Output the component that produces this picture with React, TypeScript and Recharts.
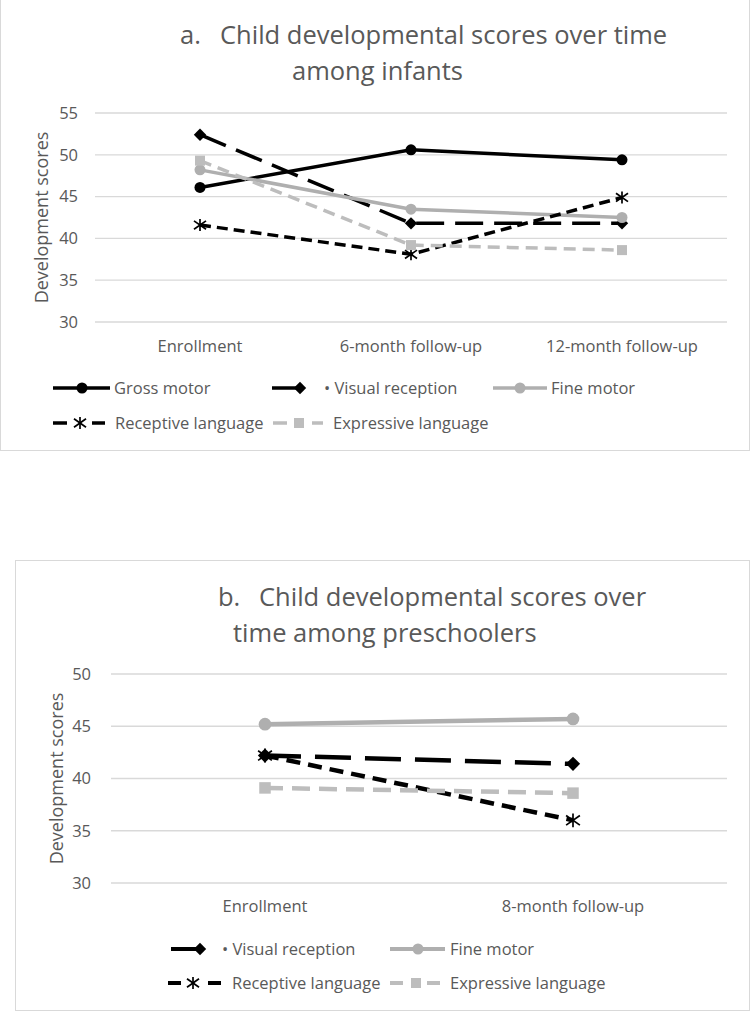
import React from "react";
import { LineChart, Line, XAxis, YAxis, CartesianGrid } from "recharts";

// panel a: infants
const infantStages = ["Enrollment", "6-month follow-up", "12-month follow-up"];
const infantGross = [46.1, 50.6, 49.4];
const infantVisual = [52.4, 41.8, 41.8];
const infantFine = [48.2, 43.5, 42.5];
const infantReceptive = [41.6, 38.1, 44.9];
const infantExpressive = [49.3, 39.2, 38.6];

// panel b: preschoolers
const preStages = ["Enrollment", "8-month follow-up"];
const preVisual = [42.2, 41.4];
const preFine = [45.2, 45.7];
const preReceptive = [42.2, 36.0];
const preExpressive = [39.1, 38.6];

const yTicksA = [30, 35, 40, 45, 50, 55];
const yTicksB = [30, 35, 40, 45, 50];

const TEXT = "#595959";
const GRID = "#d9d9d9";
const FONT = "'Open Sans', sans-serif";

type Marker = "circle" | "diamond" | "asterisk" | "square";

function MarkerShape({ kind, cx, cy, color, s = 1 }: { kind: Marker; cx: number; cy: number; color: string; s?: number }) {
  if (kind === "circle") return <circle cx={cx} cy={cy} r={5.5 * s} fill={color} />;
  if (kind === "diamond") {
    const r = 6.2 * s;
    return <polygon points={`${cx},${cy - r} ${cx + r},${cy} ${cx},${cy + r} ${cx - r},${cy}`} fill={color} />;
  }
  if (kind === "square") {
    const r = 5 * s;
    return <rect x={cx - r} y={cy - r} width={2 * r} height={2 * r} fill={color} />;
  }
  const r = 6 * s;
  return (
    <g stroke={color} strokeWidth={1.7} strokeDasharray="none">
      <line x1={cx} y1={cy - r} x2={cx} y2={cy + r} />
      <line x1={cx - r} y1={cy - r * 0.7} x2={cx + r} y2={cy + r * 0.7} />
      <line x1={cx - r} y1={cy + r * 0.7} x2={cx + r} y2={cy - r * 0.7} />
    </g>
  );
}

const makeDot = (kind: Marker, color: string, s = 1) => (p: any) =>
  p.cx == null ? <g key={p.key} /> : (
    <g key={p.key}>
      <MarkerShape kind={kind} cx={p.cx} cy={p.cy} color={color} s={s} />
    </g>
  );

type Series = { key: string; name: string; color: string; dash?: string; marker: Marker; values: number[] };

const seriesA: Series[] = [
  { key: "gross", name: "Gross motor", color: "#000", marker: "circle", values: infantGross },
  { key: "visual", name: "• Visual reception", color: "#000", dash: "28 11", marker: "diamond", values: infantVisual },
  { key: "fine", name: "Fine motor", color: "#afafaf", marker: "circle", values: infantFine },
  { key: "receptive", name: "Receptive language", color: "#000", dash: "11 6", marker: "asterisk", values: infantReceptive },
  { key: "expressive", name: "Expressive language", color: "#bdbdbd", dash: "12 7", marker: "square", values: infantExpressive },
];

const seriesB: Series[] = [
  { key: "visual", name: "• Visual reception", color: "#000", dash: "36 14", marker: "diamond", values: preVisual },
  { key: "fine", name: "Fine motor", color: "#afafaf", marker: "circle", values: preFine },
  { key: "receptive", name: "Receptive language", color: "#000", dash: "14 8", marker: "asterisk", values: preReceptive },
  { key: "expressive", name: "Expressive language", color: "#bdbdbd", dash: "18 9", marker: "square", values: preExpressive },
];

const buildRows = (stages: string[], series: Series[]) =>
  stages.map((stage, i) => {
    const row: Record<string, any> = { stage };
    series.forEach((s) => (row[s.key] = s.values[i]));
    return row;
  });

const dataA = buildRows(infantStages, seriesA);
const dataB = buildRows(preStages, seriesB);

function LegendItem({ s, x, y, segs, mark, textX, width }: any) {
  return (
    <div style={{ position: "absolute", left: x, top: y - 14, height: 28, width: 300 }}>
      <svg width={textX} height={28} style={{ position: "absolute", left: 0, top: 0 }}>
        {segs.map((g: number[], i: number) => (
          <line key={i} x1={g[0]} y1={14} x2={g[1]} y2={14} stroke={s.color} strokeWidth={width} />
        ))}
        <MarkerShape kind={s.marker} cx={mark} cy={14} color={s.color} />
      </svg>
      <span style={{ position: "absolute", left: textX, top: 3, fontFamily: FONT, fontSize: 16.5, color: TEXT, whiteSpace: "nowrap", lineHeight: "22px" }}>
        {s.name}
      </span>
    </div>
  );
}

function Title({ label, text, line2, top, labelX, textX, line2X }: any) {
  const st: React.CSSProperties = { position: "absolute", fontFamily: FONT, fontSize: 25.5, color: TEXT, whiteSpace: "nowrap", lineHeight: "30px" };
  return (
    <>
      <div style={{ ...st, left: labelX, top }}>{label}</div>
      <div style={{ ...st, left: textX, top }}>{text}</div>
      <div style={{ ...st, left: line2X, top: top + 36 }}>{line2}</div>
    </>
  );
}

const tickStyle = { fill: TEXT, fontSize: 16.5, fontFamily: FONT };

export default function App() {
  return (
    <div style={{ position: "absolute", left: 0, top: 0, width: 751, height: 1012, background: "#fff", overflow: "hidden" }}>
      {/* frames */}
      <div style={{ position: "absolute", left: 0, top: -1, width: 748, height: 450, border: "1.5px solid #d9d9d9" }} />
      <div style={{ position: "absolute", left: 15, top: 560, width: 733, height: 449, border: "1.5px solid #d9d9d9" }} />

      <Title label="a." text="Child developmental scores over time" line2="among infants" top={19} labelX={180} textX={220} line2X={292} />
      <Title label="b." text="Child developmental scores over" line2="time among preschoolers" top={581} labelX={218} textX={259} line2X={233} />

      <div style={{ position: "absolute", left: 0, top: 0 }}>
        <LineChart width={751} height={460} data={dataA} margin={{ top: 113, right: 24, left: 35, bottom: 108 }}>
          <CartesianGrid vertical={false} stroke={GRID} strokeWidth={1.3} />
          <XAxis dataKey="stage" axisLine={false} tickLine={false} tick={tickStyle} tickSize={0} tickMargin={18} padding={{ left: 105, right: 105 }} interval={0} />
          <YAxis domain={[30, 55]} ticks={yTicksA} axisLine={false} tickLine={false} tick={tickStyle} tickSize={0} tickMargin={17} width={60}
            label={{ value: "Development scores", angle: -90, position: "insideLeft", offset: 7, style: { fill: TEXT, fontSize: 18, fontFamily: FONT, textAnchor: "middle" } }} />
          {seriesA.map((s) => (
            <Line key={s.key} type="linear" dataKey={s.key} name={s.name} stroke={s.color} strokeWidth={3.5} strokeDasharray={s.dash}
              dot={makeDot(s.marker, s.color)} activeDot={false} isAnimationActive={false} />
          ))}
        </LineChart>
      </div>

      <div style={{ position: "absolute", left: 0, top: 560 }}>
        <LineChart width={751} height={452} data={dataB} margin={{ top: 114, right: 24, left: 51, bottom: 99 }}>
          <CartesianGrid vertical={false} stroke={GRID} strokeWidth={1.3} />
          <XAxis dataKey="stage" axisLine={false} tickLine={false} tick={tickStyle} tickSize={0} tickMargin={17} padding={{ left: 154, right: 154 }} interval={0} />
          <YAxis domain={[30, 50]} ticks={yTicksB} axisLine={false} tickLine={false} tick={tickStyle} tickSize={0} tickMargin={20} width={60}
            label={{ value: "Development scores", angle: -90, position: "insideLeft", offset: 6, style: { fill: TEXT, fontSize: 18, fontFamily: FONT, textAnchor: "middle" } }} />
          {seriesB.map((s) => (
            <Line key={s.key} type="linear" dataKey={s.key} name={s.name} stroke={s.color} strokeWidth={4.5} strokeDasharray={s.dash}
              dot={makeDot(s.marker, s.color, 1.15)} activeDot={false} isAnimationActive={false} />
          ))}
        </LineChart>
      </div>

      {/* legend a */}
      <LegendItem s={seriesA[0]} x={53} y={388} segs={[[0, 57]]} mark={29} textX={61} width={3.5} />
      <LegendItem s={seriesA[1]} x={272} y={388} segs={[[0, 28]]} mark={28} textX={52} width={3.5} />
      <LegendItem s={seriesA[2]} x={493} y={388} segs={[[0, 54]]} mark={27} textX={58} width={3.5} />
      <LegendItem s={seriesA[3]} x={53} y={423} segs={[[0, 14], [39, 52]]} mark={27} textX={62} width={3.5} />
      <LegendItem s={seriesA[4]} x={273} y={423} segs={[[0, 14], [39, 50]]} mark={26} textX={60} width={3.5} />

      {/* legend b */}
      <LegendItem s={seriesB[0]} x={171} y={949} segs={[[0, 30]]} mark={29} textX={51} width={4} />
      <LegendItem s={seriesB[1]} x={390} y={949} segs={[[0, 55]]} mark={28} textX={60} width={4} />
      <LegendItem s={seriesB[2]} x={168} y={983} segs={[[0, 13], [40, 53]]} mark={25} textX={64} width={4} />
      <LegendItem s={seriesB[3]} x={390} y={983} segs={[[0, 13], [37, 50]]} mark={26} textX={60} width={4} />
    </div>
  );
}
